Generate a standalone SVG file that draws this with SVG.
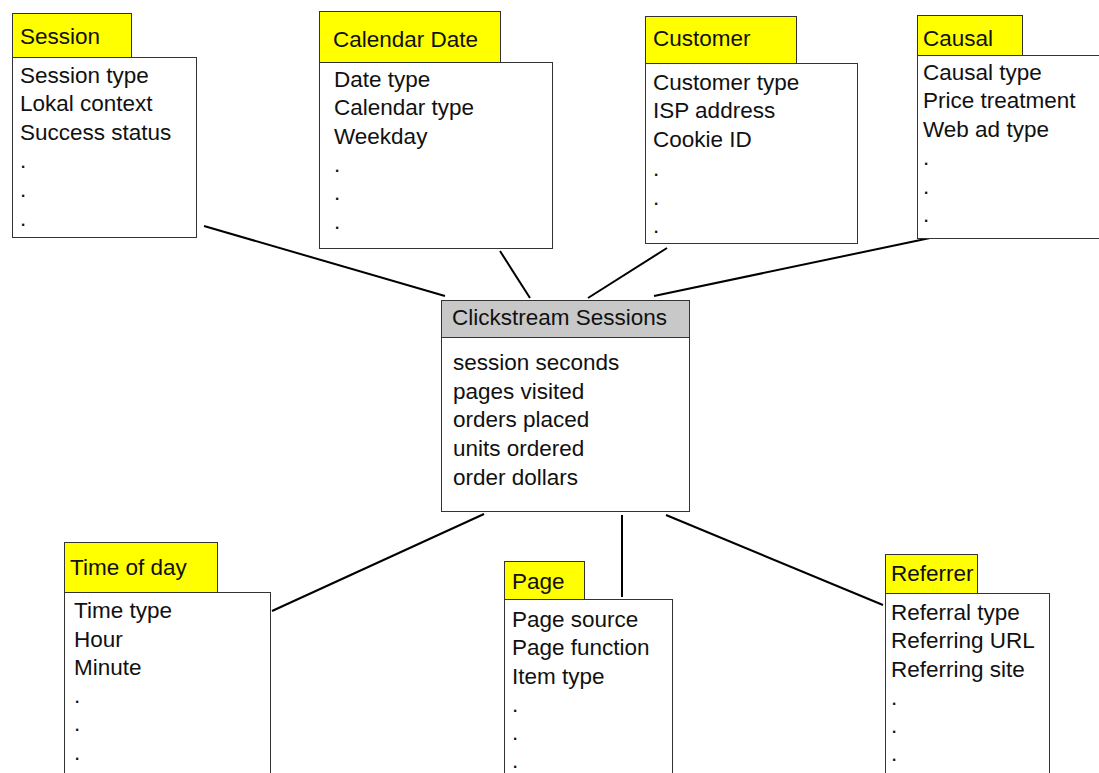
<svg xmlns="http://www.w3.org/2000/svg" width="1099" height="773" viewBox="0 0 1099 773">
<style>
.tab{fill:#ffff00;stroke:#333;stroke-width:1}
.body{fill:#fff;stroke:#333;stroke-width:1}
.hdr{fill:#c8c8c8;stroke:#333;stroke-width:1}
text{font-family:"Liberation Sans",Arial,sans-serif;font-size:22.5px;fill:#111}
.c line{stroke:#000;stroke-width:2}
</style>
<rect width="1099" height="773" fill="#fff"/>
<g class="c" id="connectors">
<line x1="204" y1="226" x2="445" y2="296"/>
<line x1="500" y1="251" x2="530" y2="298"/>
<line x1="667" y1="248" x2="588" y2="298"/>
<line x1="930" y1="238" x2="654" y2="296"/>
<line x1="484" y1="514" x2="272" y2="611"/>
<line x1="622" y1="515" x2="622" y2="597"/>
<line x1="666" y1="515" x2="883" y2="605"/>
</g>
<g id="session">
<rect class="tab" x="12.5" y="13.5" width="119" height="44"/>
<rect class="body" x="12.5" y="57.5" width="184" height="180"/>
<text x="20" y="44">Session</text>
<text x="20" y="83">Session type</text>
<text x="20" y="111">Lokal context</text>
<text x="20" y="140">Success status</text>
<text x="20" y="168">.</text>
<text x="20" y="197">.</text>
<text x="20" y="226">.</text>
</g>
<g id="calendar">
<rect class="tab" x="319.5" y="11.5" width="181" height="51"/>
<rect class="body" x="319.5" y="62.5" width="233" height="186"/>
<text x="333" y="47">Calendar Date</text>
<text x="334" y="87">Date type</text>
<text x="334" y="115">Calendar type</text>
<text x="334" y="144">Weekday</text>
<text x="334" y="172">.</text>
<text x="334" y="200">.</text>
<text x="334" y="229">.</text>
</g>
<g id="customer">
<rect class="tab" x="645.5" y="16.5" width="151" height="47"/>
<rect class="body" x="645.5" y="63.5" width="212" height="180"/>
<text x="653" y="46">Customer</text>
<text x="653" y="90">Customer type</text>
<text x="653" y="118">ISP address</text>
<text x="653" y="147">Cookie ID</text>
<text x="653" y="176">.</text>
<text x="653" y="205">.</text>
<text x="653" y="233">.</text>
</g>
<g id="causal">
<rect class="tab" x="917.5" y="15.5" width="105" height="40"/>
<rect class="body" x="917.5" y="55.5" width="190" height="183"/>
<text x="923" y="46">Causal</text>
<text x="923" y="80">Causal type</text>
<text x="923" y="108">Price treatment</text>
<text x="923" y="137">Web ad type</text>
<text x="923" y="165">.</text>
<text x="923" y="194">.</text>
<text x="923" y="222">.</text>
</g>
<g id="clickstream">
<rect class="hdr" x="441.5" y="300.5" width="248" height="37"/>
<rect class="body" x="441.5" y="337.5" width="248" height="174"/>
<text x="452" y="325">Clickstream Sessions</text>
<text x="453" y="370">session seconds</text>
<text x="453" y="399">pages visited</text>
<text x="453" y="427">orders placed</text>
<text x="453" y="456">units ordered</text>
<text x="453" y="485">order dollars</text>
</g>
<g id="timeofday">
<rect class="tab" x="64.5" y="542.5" width="153" height="50"/>
<rect class="body" x="64.5" y="592.5" width="206" height="200"/>
<text x="70" y="575">Time of day</text>
<text x="74" y="618">Time type</text>
<text x="74" y="647">Hour</text>
<text x="74" y="675">Minute</text>
<text x="74" y="703">.</text>
<text x="74" y="731">.</text>
<text x="74" y="760">.</text>
</g>
<g id="page">
<rect class="tab" x="504.5" y="561.5" width="80" height="38"/>
<rect class="body" x="504.5" y="599.5" width="168" height="200"/>
<text x="512" y="589">Page</text>
<text x="512" y="627">Page source</text>
<text x="512" y="655">Page function</text>
<text x="512" y="684">Item type</text>
<text x="512" y="712">.</text>
<text x="512" y="740">.</text>
<text x="512" y="768">.</text>
</g>
<g id="referrer">
<rect class="tab" x="885.5" y="554.5" width="92" height="39"/>
<rect class="body" x="885.5" y="593.5" width="164" height="200"/>
<text x="891" y="581">Referrer</text>
<text x="891" y="620">Referral type</text>
<text x="891" y="648">Referring URL</text>
<text x="891" y="677">Referring site</text>
<text x="891" y="705">.</text>
<text x="891" y="733">.</text>
<text x="891" y="761">.</text>
</g>
</svg>
